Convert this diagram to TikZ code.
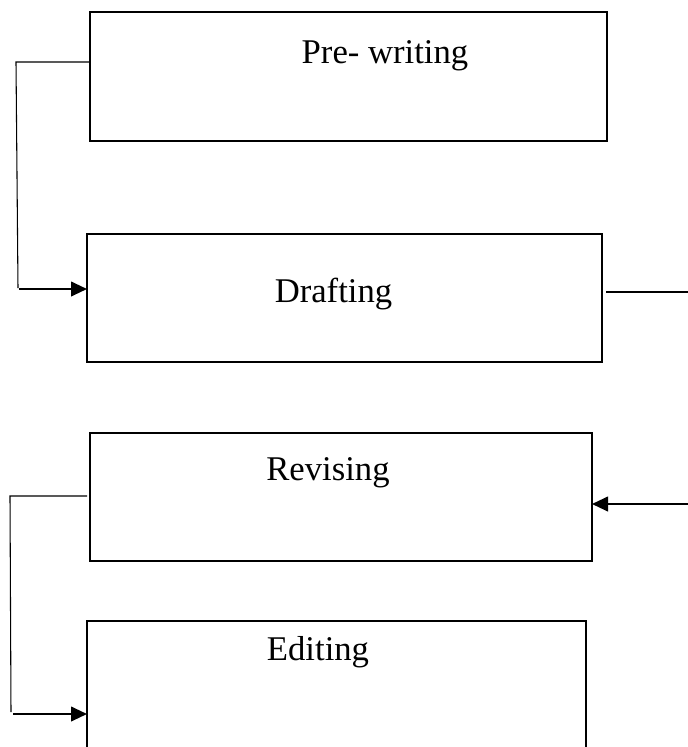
\documentclass[tikz,border=0pt]{standalone}
\usepackage{fontspec}
\setmainfont{Liberation Serif}
\usetikzlibrary{arrows.meta}
\begin{document}
\begin{tikzpicture}[x=0.75pt,y=-0.75pt,
  box/.style={draw,line width=1.8pt,rectangle,inner sep=0pt,outer sep=0pt},
  lbl/.style={anchor=base,inner sep=0pt,font=\fontsize{26}{30}\selectfont},
  thin/.style={line width=0.8pt},
  arr/.style={line width=1.5pt,-{Triangle[length=12pt,width=11pt]}}]
\useasboundingbox (0,0) rectangle (688,747);
\clip (0,0) rectangle (688,747);
% boxes
\node[box,minimum width=387.75pt,minimum height=96.75pt] (b1) at (348.5,76.5) {};
\node[box,minimum width=386.25pt,minimum height=96pt] (b2) at (344.5,298) {};
\node[box,minimum width=376.5pt,minimum height=96pt] (b3) at (341,497) {};
\node[box,minimum width=374.25pt,minimum height=119.25pt] (b4) at (336.5,700.5) {};
% labels
\node[lbl] (t1) at (385,63) {Pre- writing};
\node[lbl] (t2) at (333.5,302) {Drafting};
\node[lbl] (t3) at (328,480) {Revising};
\node[lbl] (t4) at (318,660) {Editing};
% helper coordinates
\coordinate (y1) at (0,62);
\coordinate (k1) at (16,62);
\coordinate (k2) at (18,288);
\coordinate (s1) at (19,289);
\coordinate (r1) at (606,292);
\coordinate (r2) at (688,292);
\coordinate (r3) at (688,504);
\coordinate (y3) at (0,496);
\coordinate (k3) at (10,496);
\coordinate (k4) at (11,712);
\coordinate (s2) at (13,714);
% connectors
\draw[thin] (b1.west |- y1) -- (k1) -- (k2);
\draw[arr] (s1) -- (b2.west |- s1);
\draw[thin] (r1) -- (r2);
\draw[arr] (r3) -- (b3.east |- r3);
\draw[thin] ([xshift=-2.25pt]b3.west |- y3) -- (k3) -- (k4);
\draw[arr] (s2) -- (b4.west |- s2);
\end{tikzpicture}
\end{document}
